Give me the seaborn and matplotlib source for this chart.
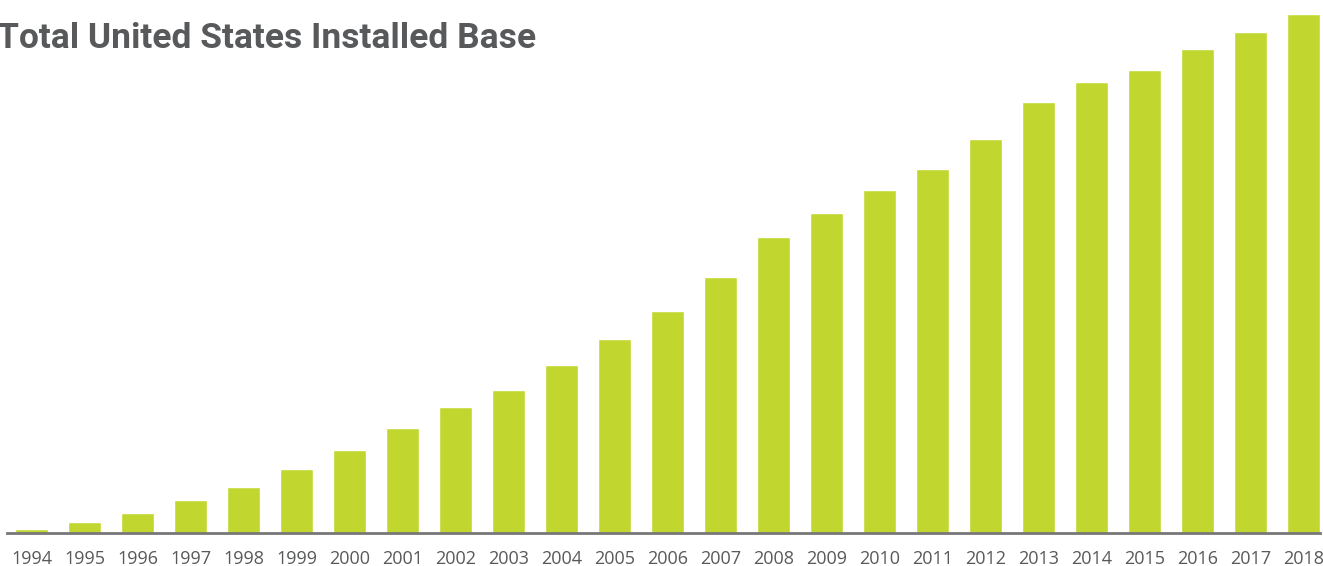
import matplotlib
matplotlib.use("Agg")
import matplotlib.pyplot as plt
import seaborn as sns
import pandas as pd

years = [str(y) for y in range(1994, 2019)]
values = [4, 11, 20, 33, 46, 64, 83, 105, 126, 143, 168, 194, 222, 256, 296,
          320, 343, 364, 394, 431, 451, 463, 484, 501, 519]

df = pd.DataFrame({"year": years, "value": values})

sns.set_theme(style="white")
plt.rcParams['font.family'] = ['Open Sans', 'DejaVu Sans']

W, H = 1323, 566
fig = plt.figure(figsize=(W / 100, H / 100), dpi=100)
ax = fig.add_axes([7 / W, (H - 533) / H, (1320 - 7) / W, 533 / H])

sns.barplot(data=df, x="year", y="value", color="#c1d72f", saturation=1,
            width=0.64, ax=ax)

pitch = 53.0
ax.set_xlim((7 - 31.5) / pitch, (1320 - 31.5) / pitch)
ax.set_ylim(0, 533)
ax.set_xlabel("")
ax.set_ylabel("")
ax.set_yticks([])
for s in ["top", "right", "left"]:
    ax.spines[s].set_visible(False)
ax.spines["bottom"].set_color("#777777")
ax.spines["bottom"].set_linewidth(2)
ax.tick_params(axis="x", length=0, pad=12, labelsize=13, labelcolor="#58595b")

fig.text(-0.002, 1 - 39 / H, "Total United States Installed Base",
         fontsize=25.5, fontweight="bold", color="#58595b", family="Roboto",
         va="center", ha="left")

fig.savefig("out.png", dpi=100)
